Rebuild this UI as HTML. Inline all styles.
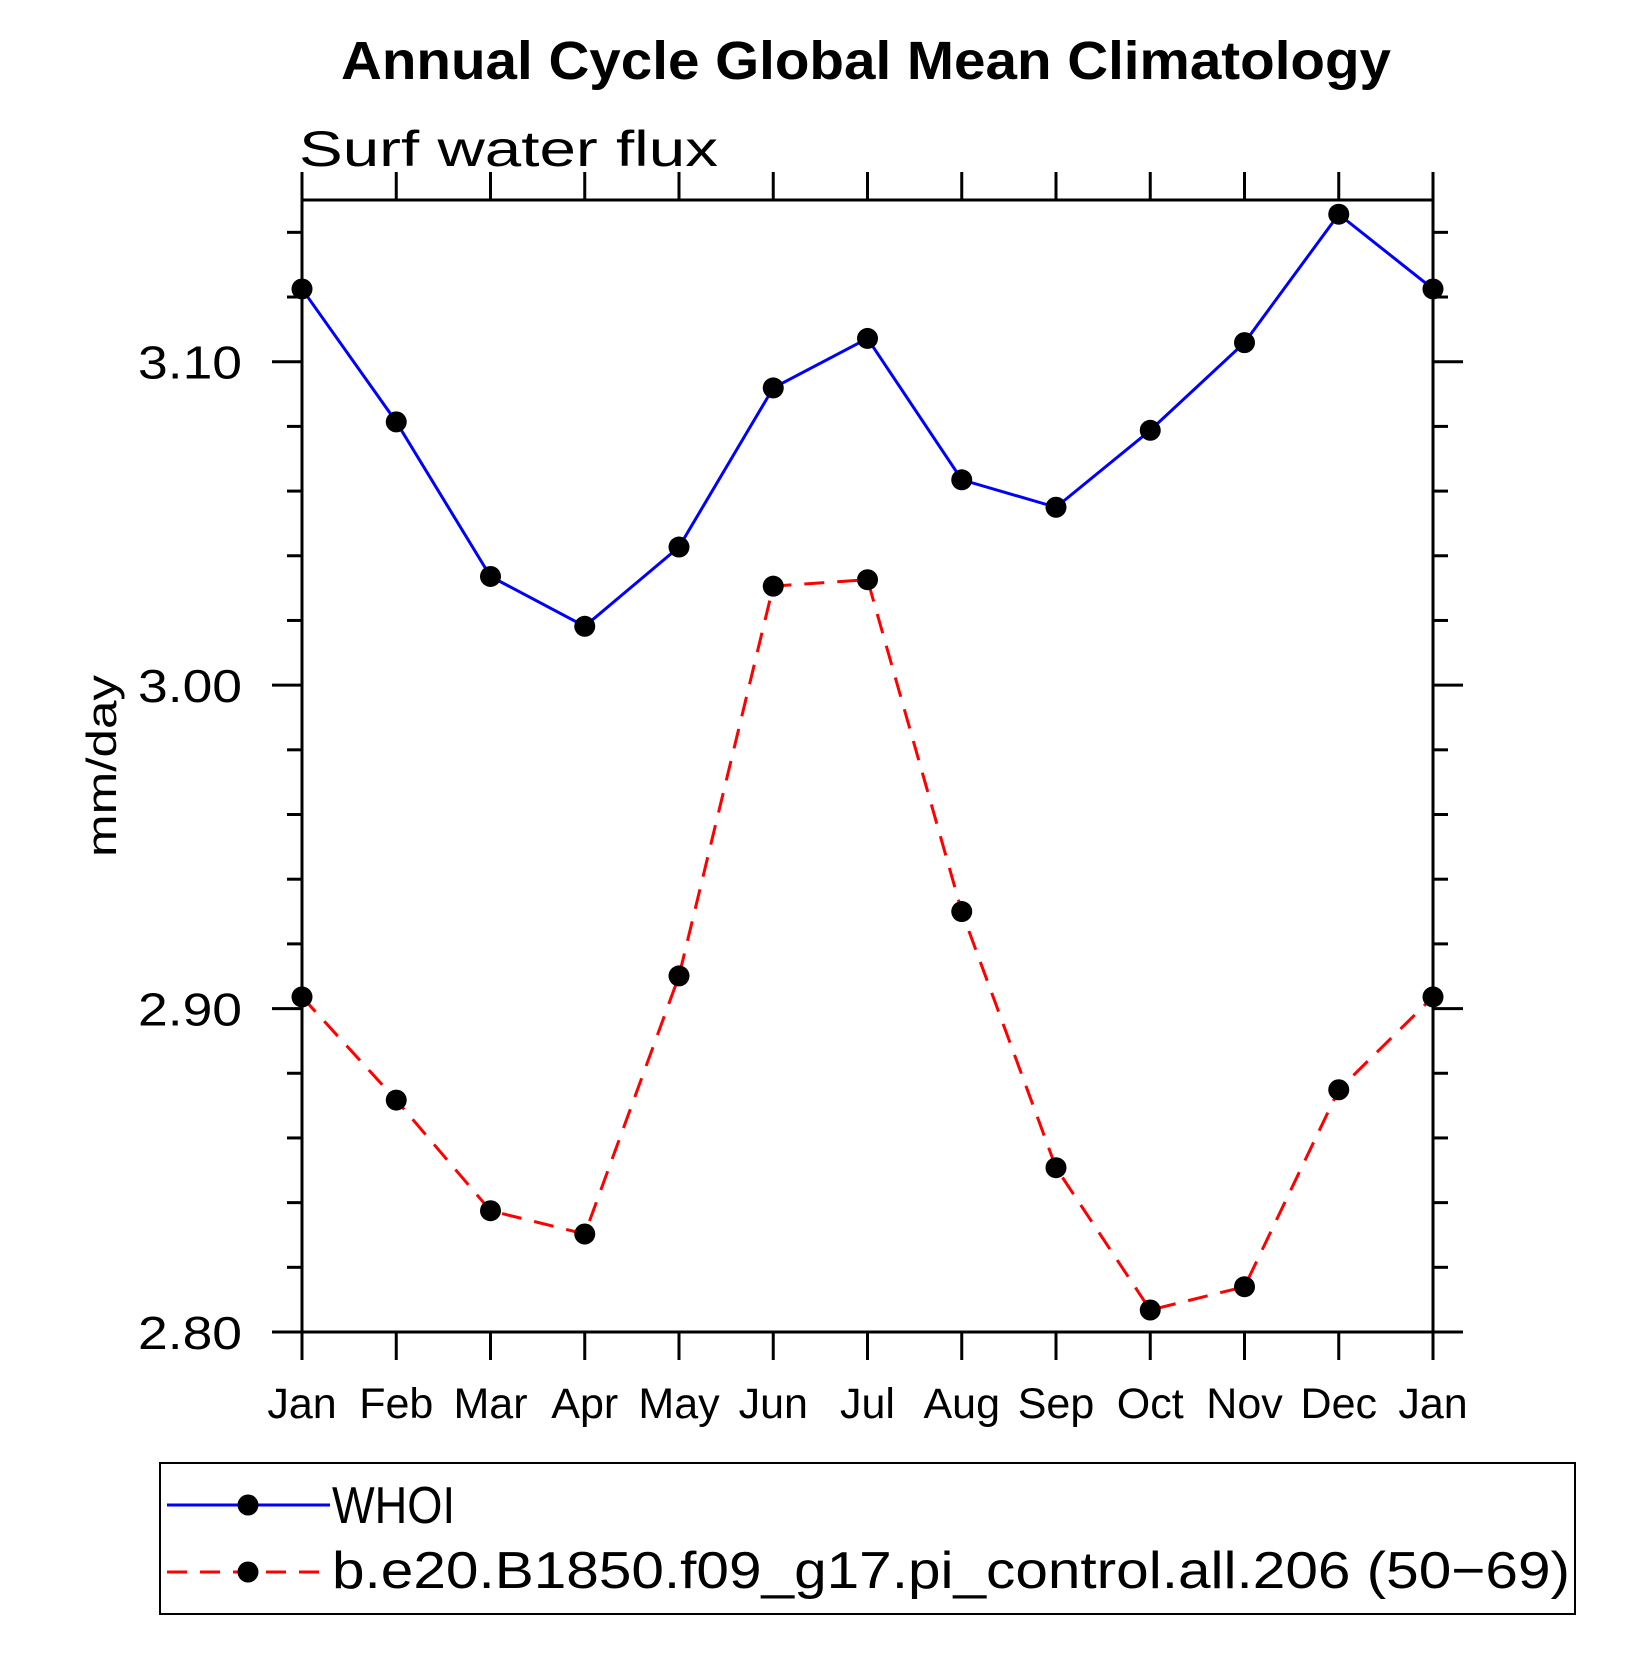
<!DOCTYPE html>
<html><head><meta charset="utf-8"><style>
html,body{margin:0;padding:0;background:#fff}
svg text{font-family:"Liberation Sans",sans-serif}
.thin{font-weight:normal;fill:#000}
</style></head><body>
<svg id="chart" width="1652" height="1652" viewBox="0 0 1652 1652" xmlns="http://www.w3.org/2000/svg">
<text x="866" y="79" text-anchor="middle" font-size="54" font-weight="bold" textLength="1050" lengthAdjust="spacingAndGlyphs">Annual Cycle Global Mean Climatology</text>
<text x="299" y="166" font-size="50" class="thin" textLength="419" lengthAdjust="spacingAndGlyphs">Surf water flux</text>
<text transform="translate(116,766) rotate(-90)" text-anchor="middle" font-size="42" class="thin" textLength="182" lengthAdjust="spacingAndGlyphs">mm/day</text>
<g id="axes"></g>
<g id="series"></g>
<g>
<rect x="160" y="1463" width="1415" height="151" fill="none" stroke="#000" stroke-width="2"/>
<line x1="167" y1="1505" x2="330" y2="1505" stroke="#0000ff" stroke-width="3"/>
<circle cx="248" cy="1505" r="10.5"/>
<text x="332" y="1523" font-size="52" class="thin" textLength="123" lengthAdjust="spacingAndGlyphs">WHOI</text>
<line x1="167" y1="1572" x2="330" y2="1572" stroke="#ff0000" stroke-width="3" stroke-dasharray="20,13"/>
<circle cx="248" cy="1572" r="10.5"/>
<text x="332" y="1588" font-size="52" class="thin" textLength="1238" lengthAdjust="spacingAndGlyphs">b.e20.B1850.f09_g17.pi_control.all.206 (50−69)</text>
</g>
</svg>
<script>
const months = ["Jan","Feb","Mar","Apr","May","Jun","Jul","Aug","Sep","Oct","Nov","Dec","Jan"];
const whoiValues = [3.1225,3.0814,3.0336,3.0182,3.0427,3.0919,3.1072,3.0635,3.0550,3.0788,3.1059,3.1456,3.1225];
const modelValues = [2.9036,2.8717,2.8375,2.8303,2.9101,3.0306,3.0326,2.9300,2.8508,2.8068,2.8140,2.8749,2.9036];
const yTickLabels = ["2.80","2.90","3.00","3.10"];
const yMin = 2.80, yMax = 3.15;

const NS = "http://www.w3.org/2000/svg";
const L = 302, R = 1433, T = 200, B = 1332;
function xs(i){ return L + (R - L) * i / (months.length - 1); }
function ys(v){ return B - (B - T) * (v - yMin) / (yMax - yMin); }
function mk(tag, attrs, parent){
  const e = document.createElementNS(NS, tag);
  for (const k in attrs) e.setAttribute(k, attrs[k]);
  parent.appendChild(e); return e;
}
const axes = document.getElementById('axes');
const frame = mk('rect', {x:L, y:T, width:R-L, height:B-T, fill:'none', stroke:'#000', 'stroke-width':3}, axes);


months.forEach((m, i) => {
  const x = xs(i);
  const t1 = mk('line', {x1:x, y1:B, x2:x, y2:B+28, stroke:'#000', 'stroke-width':3}, axes);
  
  
  const t2 = mk('line', {x1:x, y1:T, x2:x, y2:T-28, stroke:'#000', 'stroke-width':3}, axes);
  
  
  const lb = mk('text', {x:x, y:1418, 'text-anchor':'middle', 'font-size':43, class:'thin'}, axes);
  lb.textContent = m;
  
  
});
for (let k = 0; k <= 17; k++) {
  const v = yMin + k * 0.02;
  const y = ys(v);
  const major = (k % 5 === 0);
  const len = major ? 30 : 15;
  const a = mk('line', {x1:L-len, y1:y, x2:L, y2:y, stroke:'#000', 'stroke-width':3}, axes);
  
  
  const b = mk('line', {x1:R, y1:y, x2:R+len, y2:y, stroke:'#000', 'stroke-width':3}, axes);
  
  
}
yTickLabels.forEach(s => {
  const y = ys(parseFloat(s));
  const t = mk('text', {x:242, y:y+17, 'text-anchor':'end', 'font-size':46, class:'thin', textLength:104, lengthAdjust:'spacingAndGlyphs'}, axes);
  t.textContent = s;
  
  
});
const series = document.getElementById('series');
function drawSeries(vals, color, dash, name){
  const pts = vals.map((v, i) => xs(i) + ',' + ys(v)).join(' ');
  const pl = mk('polyline', {points:pts, fill:'none', stroke:color, 'stroke-width':3, 'stroke-dasharray':dash}, series);
  
  
  vals.forEach((v, i) => {
    const c = mk('circle', {cx:xs(i), cy:ys(v), r:10.5, fill:'#000'}, series);
    
    
  });
}
drawSeries(modelValues, '#ff0000', '20,13', 'model');
drawSeries(whoiValues, '#0000ff', 'none', 'whoi');
</script>
</body></html>
